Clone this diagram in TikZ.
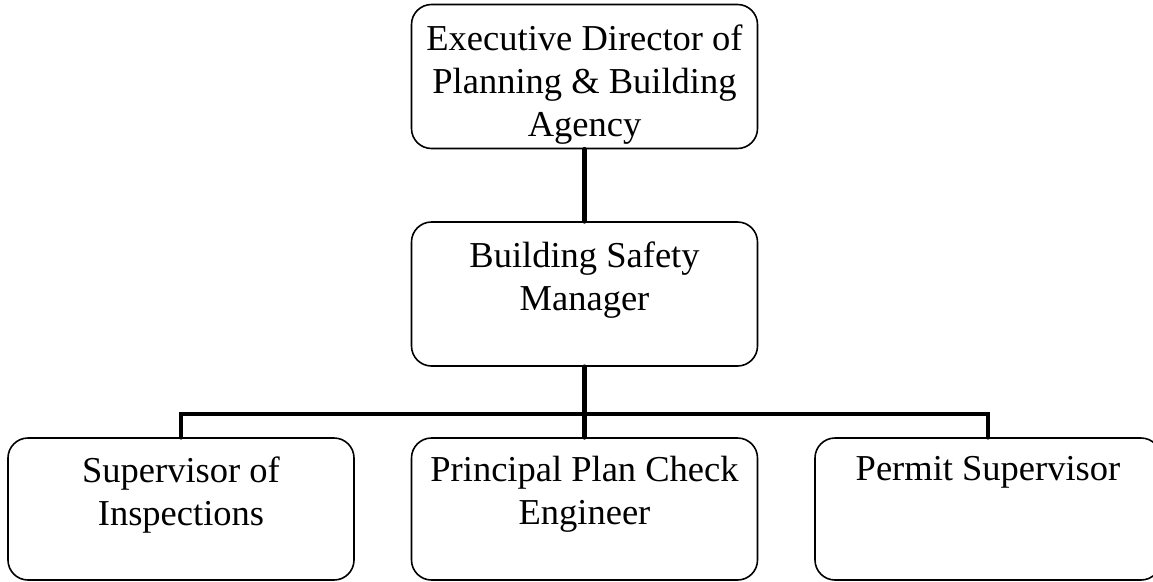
\documentclass[tikz,border=0pt]{standalone}
\usepackage{fontspec}
\setmainfont{Liberation Serif}
\begin{document}
\begin{tikzpicture}[x=1pt,y=-1pt,
  box/.style={draw=black,line width=1.6pt,rounded corners=20pt,rectangle,
    minimum width=346pt,inner sep=0pt},
  lbl/.style={anchor=north,align=center,inner sep=0pt,
    font=\fontsize{36.5}{43}\selectfont},
  link/.style={line width=4.8pt,line cap=round}]
\useasboundingbox (0,0) rectangle (1153,581);
\node[box,minimum height=144pt] (ed) at (584.5,76.5) {};
\node[box,minimum height=144pt] (bsm) at (584.5,294) {};
\node[box,minimum height=142pt] (si) at (181,509) {};
\node[box,minimum height=142pt] (ppc) at (584.5,509) {};
\node[box,minimum height=142pt] (ps) at (988,509) {};
\node[lbl] (edt) at ([yshift=-21pt]ed.north) {Executive Director of\\Planning \& Building\\Agency};
\node[lbl] (bsmt) at ([yshift=-20pt]bsm.north) {Building Safety\\Manager};
\node[lbl] (sit) at ([yshift=-19pt]si.north) {Supervisor of\\Inspections};
\node[lbl] (ppct) at ([yshift=-19pt]ppc.north) {Principal Plan Check\\Engineer};
\node[lbl] (pst) at ([yshift=-19pt]ps.north) {Permit Supervisor};
\coordinate (bus) at (584.5,414);
\draw[link] (ed.south) -- (bsm.north);
\draw[link] (bsm.south) -- (ppc.north);
\draw[link] (si.north) |- (bus) -| (ps.north);
\end{tikzpicture}
\end{document}
